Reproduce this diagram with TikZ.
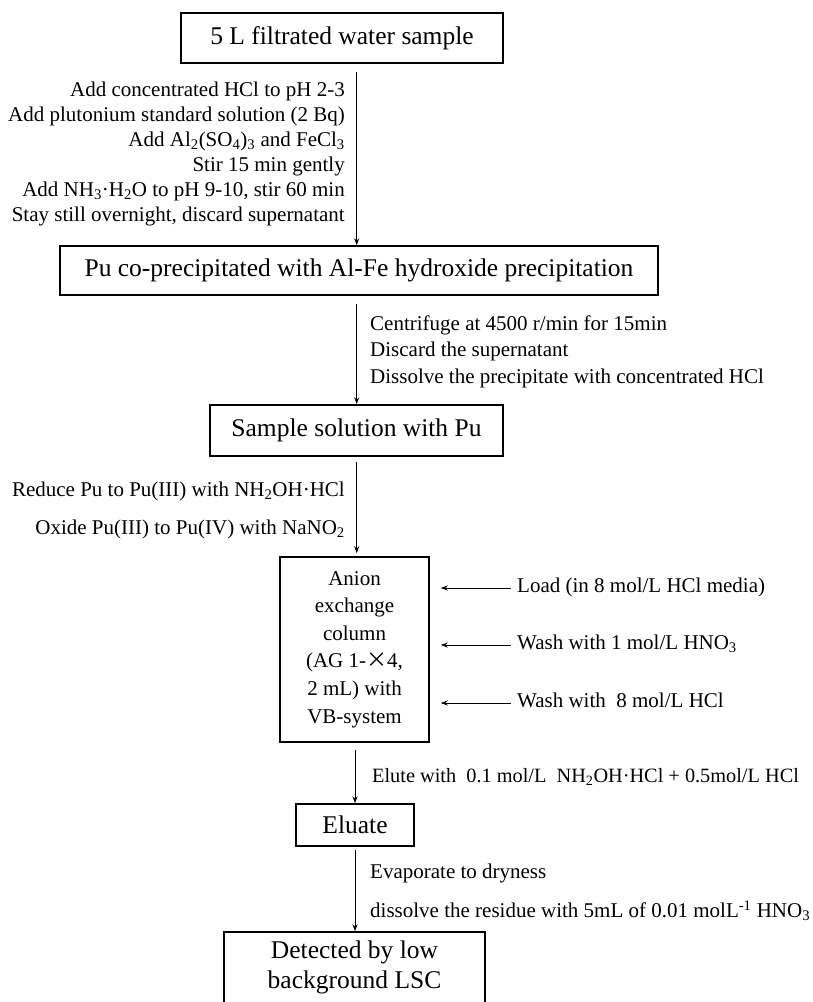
\documentclass[tikz,border=0pt]{standalone}
\usepackage{fontspec}
\setmainfont{Liberation Serif}
\newfontfamily\cjkfont{Noto Sans CJK SC}
\usetikzlibrary{arrows.meta}
\begin{document}
\begin{tikzpicture}[x=1pt,y=-1pt,
  box/.style={draw, line width=1.5pt, inner sep=0pt, align=center, font=\fontsize{25.5}{30}\selectfont},
  lab/.style={inner sep=0pt, font=\fontsize{21}{25}\selectfont},
  one/.style={text height=14pt, text depth=5pt},
  arr/.style={-{Stealth[length=7pt,width=5pt]}, line width=1pt}]
\useasboundingbox[fill=white] (0,0) rectangle (812,1002);

% boxes
\node[box, minimum width=322pt, minimum height=50pt] (b1) at (342,38) {5 L filtrated water sample};
\node[box, minimum width=598pt, minimum height=49pt] (b2) at (359,270.5) {Pu co-precipitated with Al-Fe hydroxide precipitation};
\node[box, minimum width=293pt, minimum height=51pt] (b3) at (356.5,430.5) {Sample solution with Pu};
\node[box, font=\fontsize{21}{27.6}\selectfont, minimum width=149pt, minimum height=185pt] (b4) at (354.5,649.5)
  {Anion\\exchange\\column\\(AG 1-{\cjkfont ×}4,\\2 mL) with\\VB-system};
\node[box, minimum width=118pt, minimum height=42pt] (b5) at (355,825) {Eluate};
\node[box, minimum width=261pt, minimum height=80pt, text depth=15pt] (b6) at (354.5,972) {Detected by low\\background LSC};

% labels
\node[lab, anchor=east, align=right] (l1) at (345,153.5)
  {Add concentrated HCl to pH 2-3\\
   Add plutonium standard solution (2 Bq)\\
   Add Al\textsubscript{2}(SO\textsubscript{4})\textsubscript{3} and FeCl\textsubscript{3}\\
   Stir 15 min gently\\
   Add NH\textsubscript{3}·H\textsubscript{2}O to pH 9-10, stir 60 min\\
   Stay still overnight, discard supernatant};
\node[lab, anchor=west, align=left, font=\fontsize{21}{26.5}\selectfont] (l2) at (370,351.5)
  {Centrifuge at 4500 r/min for 15min\\
   Discard the supernatant\\
   Dissolve the precipitate with concentrated HCl};
\node[lab, anchor=east, align=right, font=\fontsize{21}{38}\selectfont] (l3) at (345,510)
  {Reduce Pu to Pu(III) with NH\textsubscript{2}OH·HCl\\
   Oxide Pu(III) to Pu(IV) with NaNO\textsubscript{2}};
\node[lab, one, anchor=west] (s1) at (517,588) {Load (in 8 mol/L HCl media)};
\node[lab, one, anchor=west] (s2) at (517,645) {Wash with 1 mol/L HNO\textsubscript{3}};
\node[lab, one, anchor=west] (s3) at (517,703) {Wash with\ \ 8 mol/L HCl};
\node[lab, one, anchor=west, font=\fontsize{20.3}{25}\selectfont] (l4) at (372,778) {Elute with\ \ 0.1 mol/L\ \ NH\textsubscript{2}OH·HCl + 0.5mol/L HCl};
\node[lab, anchor=west, align=left, font=\fontsize{21}{39}\selectfont] (l5) at (370,892.5)
  {Evaporate to dryness\\
   dissolve the residue with 5mL of 0.01 molL\textsuperscript{-1} HNO\textsubscript{3}};

% connectors
\coordinate (xa) at (356.7,0);
\coordinate (xb) at (355,0);
\draw[arr, shorten <=8pt] (b1.south -| xa) -- (b2.north -| xa);
\draw[arr, shorten <=8pt] (b2.south -| xa) -- (b3.north -| xa);
\draw[arr, shorten <=5pt, shorten >=3pt] (b3.south -| xa) -- (b4.north -| xa);
\draw[arr, shorten <=7pt] (b4.south -| xb) -- (b5.north -| xb);
\draw[arr, shorten <=3pt] (b5.south -| xb) -- (b6.north -| xb);
\draw[arr, shorten <=6pt, shorten >=11pt] (s1.west) -- (b4.east |- s1.west);
\draw[arr, shorten <=6pt, shorten >=11pt] (s2.west) -- (b4.east |- s2.west);
\draw[arr, shorten <=6pt, shorten >=11pt] (s3.west) -- (b4.east |- s3.west);
\end{tikzpicture}
\end{document}
